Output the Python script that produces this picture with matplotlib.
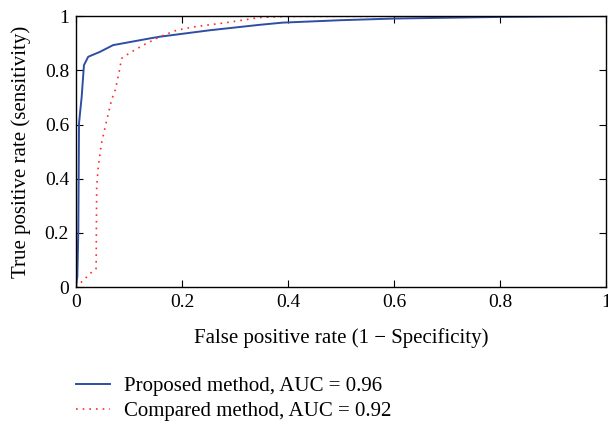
import matplotlib
matplotlib.use("Agg")
import matplotlib.pyplot as plt

plt.rcParams["font.family"] = ["Liberation Serif", "DejaVu Serif"]

# ROC curve points
fpr_proposed = [0.0, 0.0025, 0.0044, 0.0057, 0.0107, 0.015, 0.023, 0.045, 0.070,
                0.14, 0.158, 0.253, 0.347, 0.39, 0.50, 0.60, 0.80, 1.0]
tpr_proposed = [0.0, 0.038, 0.21, 0.605, 0.702, 0.819, 0.85, 0.868, 0.893,
                0.918, 0.924, 0.948, 0.968, 0.976, 0.985, 0.991, 0.997, 1.0]

fpr_compared = [0.0, 0.011, 0.030, 0.038, 0.039, 0.042, 0.048, 0.058, 0.067, 0.074,
                0.082, 0.086, 0.102, 0.127, 0.158, 0.19, 0.221, 0.284, 0.347, 0.397, 1.0]
tpr_compared = [0.0, 0.02, 0.056, 0.069, 0.37, 0.444, 0.53, 0.616, 0.69, 0.727,
                0.80, 0.844, 0.865, 0.893, 0.924, 0.948, 0.96, 0.976, 0.995, 0.999, 1.0]

labels = ["Proposed method, AUC = 0.96", "Compared method, AUC = 0.92"]

fig = plt.figure(figsize=(6.08, 4.21), dpi=100)
ax = fig.add_axes([0.125, 0.318, 0.8717, 0.6437])

ax.plot(fpr_proposed, tpr_proposed, color="#2e4ea3", lw=1.4, label=labels[0])
ax.plot(fpr_compared, tpr_compared, color="#ff2a2a", lw=1.2, ls=(0, (1, 3)),
        label=labels[1])

ax.set_xlim(0, 1)
ax.set_ylim(0, 1)
ticks = [0, 0.2, 0.4, 0.6, 0.8, 1]
ticklabels = ["0", "0.2", "0.4", "0.6", "0.8", "1"]
ax.set_xticks(ticks)
ax.set_xticklabels(ticklabels)
ax.set_yticks(ticks)
ax.set_yticklabels(ticklabels)
ax.tick_params(direction="in", top=True, right=True, labelsize=14, length=5, pad=5)
for s in ax.spines.values():
    s.set_linewidth(1.0)

ax.set_xlabel("False positive rate (1 \u2212 Specificity)", fontsize=15, labelpad=12)
ax.set_ylabel("True positive rate (sensitivity)", fontsize=15, labelpad=10)

fig.legend(loc="upper left", bbox_to_anchor=(0.112, 0.125), frameon=False,
           fontsize=15, handlelength=1.6, handletextpad=0.7, labelspacing=0.25,
           borderaxespad=0)

fig.savefig("out.png", dpi=100)
